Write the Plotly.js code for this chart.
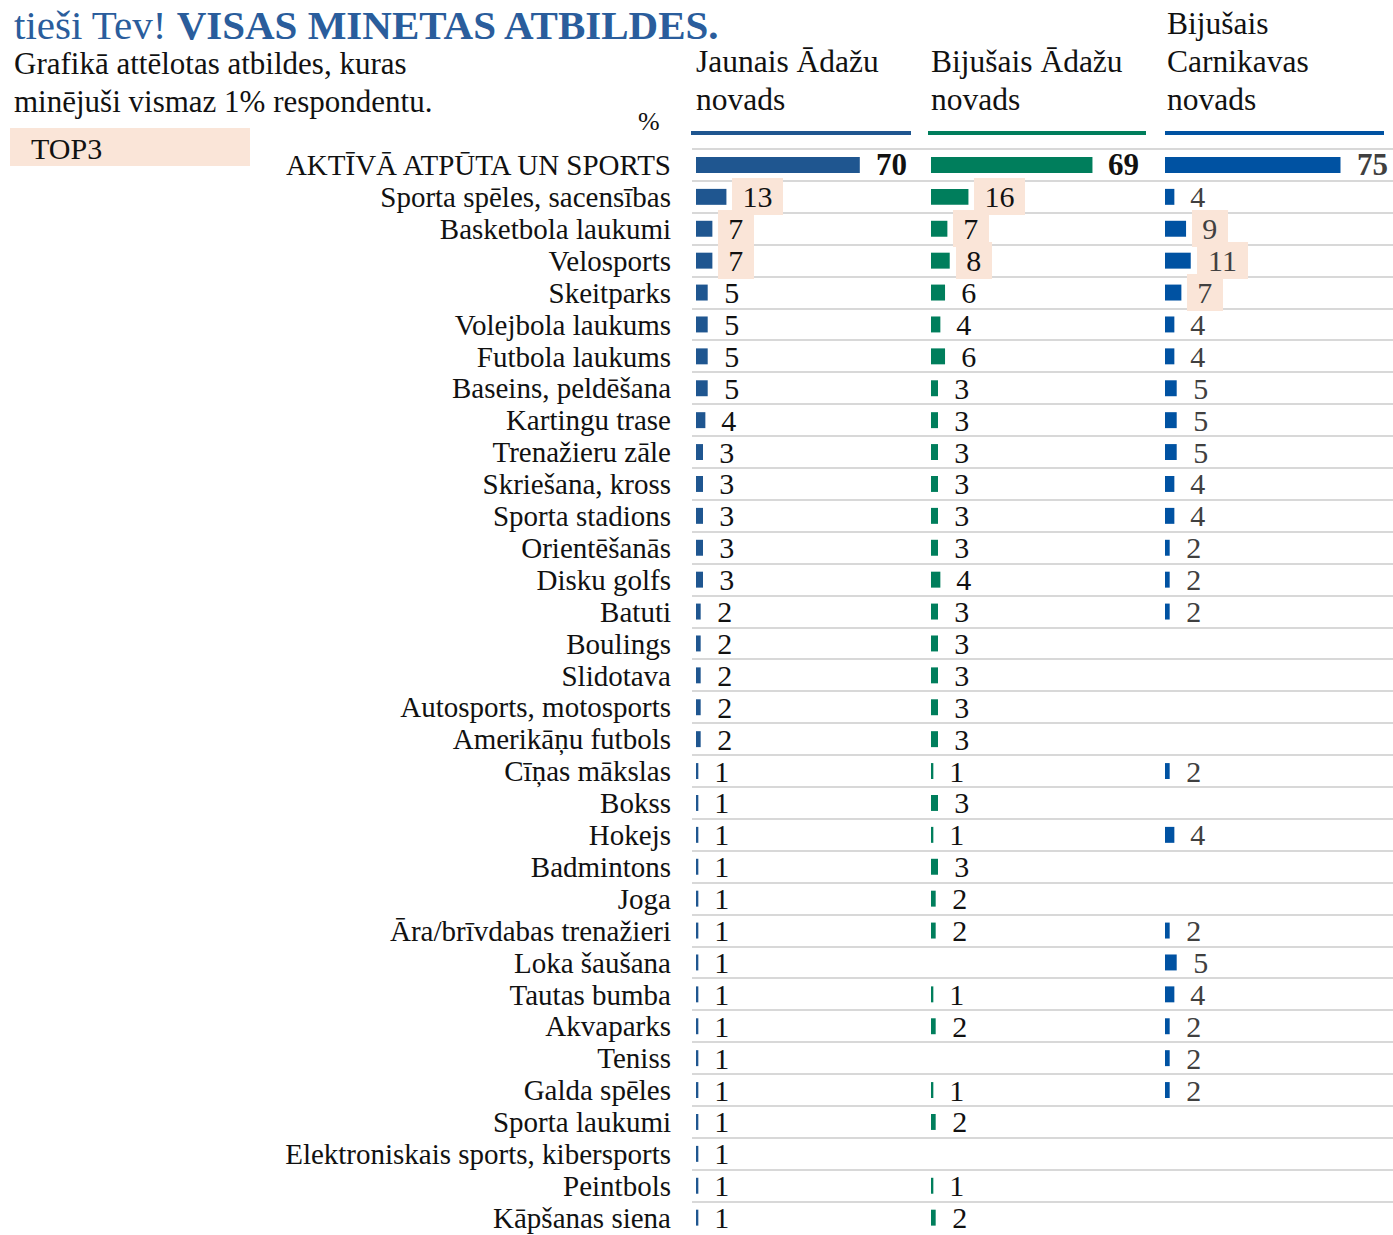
<!DOCTYPE html>
<html>
<head>
<meta charset="utf-8">
<script src="https://cdn.plot.ly/plotly-3.0.1.min.js"></script>
<style>
html,body{margin:0;padding:0;background:#fff;}
#chart{width:1393px;height:1235px;}
</style>
</head>
<body>
<div id="chart"></div>
<script>
// ---------- DATA ----------
const categories = [
  "AKTĪVĀ ATPŪTA UN SPORTS",
  "Sporta spēles, sacensības",
  "Basketbola laukumi",
  "Velosports",
  "Skeitparks",
  "Volejbola laukums",
  "Futbola laukums",
  "Baseins, peldēšana",
  "Kartingu trase",
  "Trenažieru zāle",
  "Skriešana, kross",
  "Sporta stadions",
  "Orientēšanās",
  "Disku golfs",
  "Batuti",
  "Boulings",
  "Slidotava",
  "Autosports, motosports",
  "Amerikāņu futbols",
  "Cīņas mākslas",
  "Bokss",
  "Hokejs",
  "Badmintons",
  "Joga",
  "Āra/brīvdabas trenažieri",
  "Loka šaušana",
  "Tautas bumba",
  "Akvaparks",
  "Teniss",
  "Galda spēles",
  "Sporta laukumi",
  "Elektroniskais sports, kibersports",
  "Peintbols",
  "Kāpšanas siena"
];
const jaunaisAdazu = [70, 13, 7, 7, 5, 5, 5, 5, 4, 3, 3, 3, 3, 3, 2, 2, 2, 2, 2, 1, 1, 1, 1, 1, 1, 1, 1, 1, 1, 1, 1, 1, 1, 1];
const bijusaisAdazu = [69, 16, 7, 8, 6, 4, 6, 3, 3, 3, 3, 3, 3, 4, 3, 3, 3, 3, 3, 1, 3, 1, 3, 2, 2, null, 1, 2, null, 1, 2, null, 1, 2];
const bijusaisCarnikava = [75, 4, 9, 11, 7, 4, 4, 5, 5, 5, 4, 4, 2, 2, 2, null, null, null, null, 2, null, 4, null, null, 2, 5, 4, 2, 2, 2, null, null, null, null];
const panelTitles = [["Jaunais Ādažu", "novads"], ["Bijušais Ādažu", "novads"], ["Bijušais", "Carnikavas", "novads"]];
const top3Rows = [[1, 2, 3], [1, 2, 3], [2, 3, 4]];
const titleRegular = "tieši Tev! ";
const titleBold = "VISAS MINETAS ATBILDES.";
const subtitleLines = ["Grafikā attēlotas atbildes, kuras", "minējuši vismaz 1% respondentu."];
const unitLabel = "%";
const top3Label = "TOP3";

// ---------- LAYOUT GEOMETRY ----------
const W = 1393, H = 1235;
const ROW = 31.9;
const FIRST_BOUNDARY = 149;   // pixel y of the top boundary of the first row
const TOP_PAD = 4;            // extra pixels above it inside the plot area
const L = 692, R = 0, T = FIRST_BOUNDARY - TOP_PAD, B = 0;
const PW = W - L - R, PH = H - T - B;
const PXU = 2.34; // pixels per percent
const FONT = "Liberation Serif, 'Times New Roman', Times, serif";
const px = X => (X - L) / PW;
const py = Y => (H - B - Y) / PH;

const series = [jaunaisAdazu, bijusaisAdazu, bijusaisCarnikava];
const colors = ["#1f5690", "#007e5c", "#0052a2"];
const labelColors = ["#111111", "#111111", "#404040"];
const panelPx = [[692, 928, 696], [928, 1163, 931], [1163, 1393, 1165]]; // [start, end, zero]
const headerLinePx = [[691, 911], [928, 1146], [1165, 1384]];
const headerTextX = [694, 929, 1165];
const axNames = ["x", "x2", "x3"];
const axKeys = ["xaxis", "xaxis2", "xaxis3"];
const HL = "#fae5d8";

const traces = [];
const annotations = [];
const shapes = [];
const yTop = -0.5 - TOP_PAD / ROW;
const layout = {
  width: W, height: H,
  margin: {l: L, r: R, t: T, b: B, pad: 0},
  paper_bgcolor: "#ffffff",
  plot_bgcolor: "#ffffff",
  font: {family: FONT, color: "#111111", size: 29},
  showlegend: false,
  bargap: 0.5,
  yaxis: {
    type: "category",
    categoryorder: "array",
    categoryarray: categories,
    range: [yTop + PH / ROW, yTop],
    tickmode: "linear",
    tick0: 0,
    dtick: 1,
    tickson: "boundaries",
    showgrid: true,
    gridcolor: "#d8d8d8",
    gridwidth: 2,
    ticks: "",
    showline: false,
    zeroline: false,
    ticklabelstandoff: 20,
    tickfont: {family: FONT, size: 29, color: "#111111"},
    fixedrange: true
  }
};

series.forEach((vals, k) => {
  const [s, e, z] = panelPx[k];
  const width = e - s;
  const x0 = -(z - s) / PXU;
  layout[axKeys[k]] = {
    domain: [px(s), px(e)],
    range: [x0, x0 + width / PXU],
    showgrid: false, zeroline: false, showticklabels: false, ticks: "",
    showline: false, fixedrange: true, anchor: "y"
  };
  traces.push({
    type: "bar",
    orientation: "h",
    x: vals,
    y: categories,
    xaxis: axNames[k],
    yaxis: "y",
    marker: {color: colors[k], line: {width: 0}},
    width: 0.5,
    hoverinfo: "skip"
  });
  vals.forEach((v, i) => {
    if (v === null || v === undefined) return;
    const hi = top3Rows[k].includes(i);
    const txt = String(v);
    const bold = i === 0;
    annotations.push({
      x: v, y: categories[i], xref: axNames[k], yref: "y",
      xanchor: "left", yanchor: "middle", showarrow: false,
      text: bold ? "<b>" + txt + "</b>" : txt,
      font: {family: FONT, size: bold ? 31 : 30, color: labelColors[k]},
      bgcolor: hi ? HL : "rgba(0,0,0,0)",
      borderwidth: 0, borderpad: hi ? 2 : 0,
      width: txt.length * 15.5 + 16,
      xshift: hi ? 6 : 8
    });
  });
  // panel header, one annotation per line, bottom line aligned
  const lines = panelTitles[k];
  lines.forEach((ln, j) => {
    const centerY = 100 - (lines.length - 1 - j) * 38.5;
    annotations.push({
      x: px(headerTextX[k]), y: py(centerY), xref: "paper", yref: "paper",
      xanchor: "left", yanchor: "middle", showarrow: false, align: "left",
      text: ln,
      font: {family: FONT, size: 31.5, color: "#111111"}
    });
  });
  const [hx0, hx1] = headerLinePx[k];
  shapes.push({
    type: "rect", xref: "paper", yref: "paper",
    x0: px(hx0), x1: px(hx1), y0: py(135), y1: py(131),
    fillcolor: colors[k], line: {width: 0}
  });
});

// title (kept fully inside the canvas)
annotations.push({
  x: px(12), y: py(0), xref: "paper", yref: "paper",
  xanchor: "left", yanchor: "top", showarrow: false,
  text: titleRegular + "<b>" + titleBold + "</b>",
  font: {family: FONT, size: 41, color: "#2a5d9c"}
});
// subtitle lines
subtitleLines.forEach((ln, j) => {
  annotations.push({
    x: px(12), y: py(63 + j * 38), xref: "paper", yref: "paper",
    xanchor: "left", yanchor: "middle", showarrow: false, align: "left",
    text: ln,
    font: {family: FONT, size: 31, color: "#111111"}
  });
});
// percent sign
annotations.push({
  x: px(649), y: py(122), xref: "paper", yref: "paper",
  xanchor: "center", yanchor: "middle", showarrow: false,
  text: unitLabel,
  font: {family: FONT, size: 26, color: "#111111"}
});
// TOP3 key
shapes.push({
  type: "rect", xref: "paper", yref: "paper",
  x0: px(10), x1: px(250), y0: py(166), y1: py(128),
  fillcolor: HL, line: {width: 0}
});
annotations.push({
  x: px(29), y: py(148), xref: "paper", yref: "paper",
  xanchor: "left", yanchor: "middle", showarrow: false,
  text: top3Label,
  font: {family: FONT, size: 30, color: "#111111"}
});

layout.annotations = annotations;
layout.shapes = shapes;

Plotly.newPlot("chart", traces, layout, {staticPlot: true, displayModeBar: false});
</script>
</body>
</html>
